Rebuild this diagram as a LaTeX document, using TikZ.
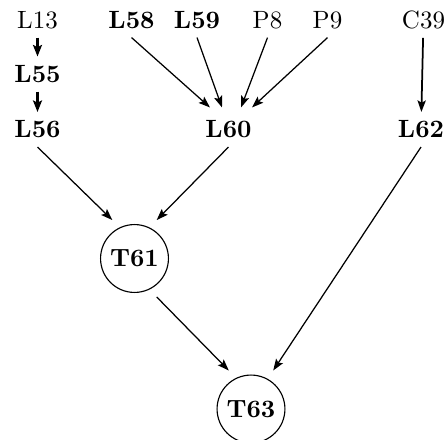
\documentclass[tikz,border=0pt]{standalone}
\usetikzlibrary{arrows.meta,calc}
\begin{document}
\begin{tikzpicture}[x=0.4pt,y=-0.4pt,
  lbl/.style={inner sep=3.33pt},
  blbl/.style={lbl,font=\bfseries},
  tnode/.style={circle,draw,line width=0.45pt,inner sep=2.5pt,outer sep=4.2pt,font=\bfseries},
  edge/.style={-{Stealth[length=4.6pt,width=3.3pt,inset=0.9pt]},line width=0.5pt},
  thickedge/.style={-{Stealth[length=4.6pt,width=3.6pt,inset=0.9pt]},line width=1pt}]
\useasboundingbox (0,0) rectangle (448,440);
% top row
\node[lbl]  (L13) at (37.5,20)  {L13};
\node[blbl] (L58) at (131.5,20) {L58};
\node[blbl] (L59) at (197,20)   {L59};
\node[lbl]  (P8)  at (267.5,20) {P8};
\node[lbl]  (P9)  at (327.5,20) {P9};
\node[lbl]  (C39) at (423.5,20) {C39};
% second row
\node[blbl] (L55) at (37.5,74) {L55};
% third row
\node[blbl] (L56) at (37.5,129.5)  {L56};
\node[blbl] (L60) at (228.5,129.5) {L60};
\node[blbl] (L62) at (421,129.5)   {L62};
% circles
\node[tnode] (T61) at (134.5,258.5) {T61};
\node[tnode] (T63) at (251,409)     {T63};
% edges
\draw[thickedge] (L13) -- (L55);
\draw[thickedge] (L55) -- (L56);
\draw[edge] (L58.south) -- ($(L60.north)+(-18.5,-4.5)$);
\draw[edge] (L59.south) -- ($(L60.north)+(-6.5,-4.5)$);
\draw[edge] (P8.south)  -- ($(L60.north)+(12.5,-4.5)$);
\draw[edge] (P9.south)  -- ($(L60.north)+(23.5,-4.5)$);
\draw[edge,line width=0.7pt] (C39) -- (L62);
\draw[edge] (L56.south) -- (T61.120);
\draw[edge] (L60.south) -- (T61.60);
\draw[edge] (T61.-60) -- (T63.120);
\draw[edge] (L62.south) -- (T63.60);
\end{tikzpicture}
\end{document}
